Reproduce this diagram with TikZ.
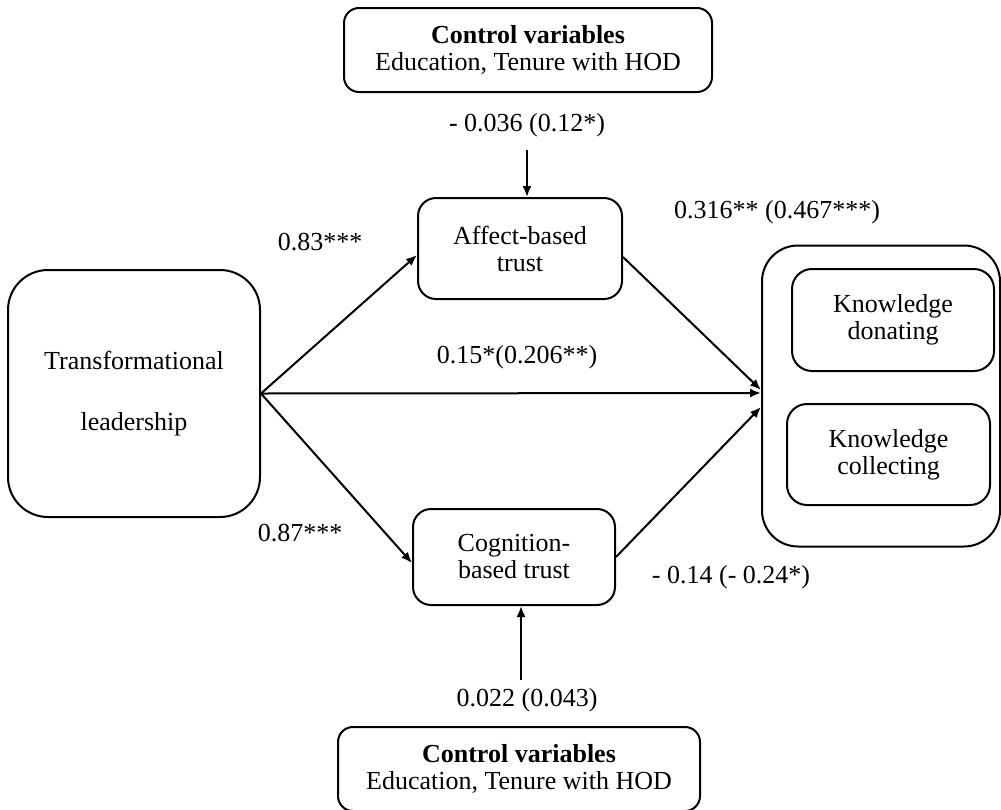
\documentclass[tikz,border=0pt]{standalone}
\usepackage{fontspec}
\setmainfont{Liberation Serif}
\usetikzlibrary{arrows.meta}
\begin{document}
\begin{tikzpicture}[x=1pt,y=-1pt,
  box/.style={draw, line width=2pt, rounded corners=15pt, align=center, inner sep=0pt},
  arr/.style={line width=2pt, -{Latex[length=11pt,width=9pt]}},
  lbl/.style={inner sep=0pt, anchor=center},
  every node/.style={font=\fontsize{26}{27}\selectfont}]
\useasboundingbox (0,0) rectangle (1001,809);
\fill[white] (0,0) rectangle (1001,809);
% boxes
\node[box, minimum width=368pt, minimum height=84pt] (ctop) at (528,50)
  {\textbf{Control variables}\\Education, Tenure with HOD};
\node[box, rounded corners=18pt, minimum width=204pt, minimum height=101pt] (affect) at (520,248.5)
  {Affect-based\\trust};
\node[box, rounded corners=40pt, minimum width=252pt, minimum height=247pt] (trans) at (134,393.5)
  {Transformational\\[34pt]leadership};
\node[box, rounded corners=18pt, minimum width=202pt, minimum height=96pt] (cog) at (514,557)
  {Cognition-\\based trust};
\node[box, minimum width=362pt, minimum height=84pt] (cbot) at (519,769)
  {\textbf{Control variables}\\Education, Tenure with HOD};
\node[box, rounded corners=36pt, minimum width=238pt, minimum height=301pt] (outer) at (881,396) {};
\node[box, rounded corners=20pt, minimum width=202pt, minimum height=102pt] (don) at (893,320)
  {Knowledge\\donating};
\node[box, rounded corners=20pt, minimum width=203pt, minimum height=101pt] (col) at (888.5,454.5)
  {Knowledge\\collecting};
% connectors
\coordinate (c1) at (527,150);
\coordinate (c2) at (521,680);
\draw[arr] (c1) -- (c1 |- affect.north);
\draw[arr] (c2) -- (c2 |- cog.south);
\draw[arr] (trans.east) -- ([yshift=-6.5pt]affect.west);
\draw[arr] (trans.east) -- ([yshift=-6pt]cog.west);
\draw[arr] (trans.east) -- ([yshift=3pt]outer.west);
\draw[arr] ([yshift=-8.5pt]affect.east) -- ([yshift=6pt]outer.west);
\draw[arr] (cog.east) -- ([yshift=-11pt]outer.west);
% labels
\node[lbl] (l1) at (527,125) {- 0.036 (0.12*)};
\node[lbl] (l2) at (320,242) {0.83***};
\node[lbl] (l3) at (777,212) {0.316** (0.467***)};
\node[lbl] (l4) at (517,357) {0.15*(0.206**)};
\node[lbl] (l5) at (300,533) {0.87***};
\node[lbl] (l6) at (731,577) {- 0.14 (- 0.24*)};
\node[lbl] (l7) at (527,700) {0.022 (0.043)};
\end{tikzpicture}
\end{document}
